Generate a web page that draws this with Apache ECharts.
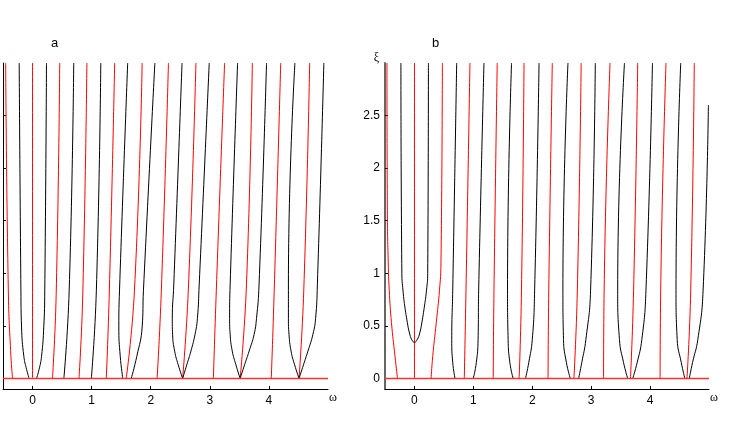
<!DOCTYPE html>
<html>
<head>
<meta charset="utf-8">
<script src="https://cdn.jsdelivr.net/npm/echarts@6.0.0/dist/echarts.min.js"></script>
<style>
  html, body { margin: 0; padding: 0; background: #fff; }
  #chart { width: 746px; height: 425px; }
</style>
</head>
<body>
<div id="chart"></div>
<script>
// tick values, same in both panels
var omegaTicks = [0, 1, 2, 3, 4];
var xiTicks = [0, 0.5, 1, 1.5, 2, 2.5];

// every curve is a list of [omega, xi] points
// panel a
var redA = [
  [[-0.337, 0], [-0.366, 0.21], [-0.41, 0.84], [-0.455, 3]],
  [[0, 0], [0, 3]],
  [[0.337, 0], [0.40, 0.8], [0.46, 3]],
  [[0.786, 0], [0.85, 0.8], [0.92, 3]],
  [[1.248, 0], [1.30, 0.84], [1.39, 3]],
  [[1.585, 0], [1.725, 0.84], [1.855, 3]],
  [[2.108, 0], [2.18, 0.84], [2.30, 3]],
  [[2.54, 0], [2.636, 0.84], [2.765, 3]],
  [[3.06, 0], [3.11, 0.84], [3.25, 3]],
  [[3.513, 0], [3.62, 0.89], [3.72, 3]],
  [[4.04, 0], [4.09, 0.84], [4.20, 3]],
  [[4.51, 0], [4.59, 0.84], [4.69, 3]]
];
var blackA = [
  [[-0.057, 0], [-0.1, 0.085], [-0.147, 0.21], [-0.186, 0.49], [-0.197, 0.84], [-0.226, 3]],
  [[0.067, 0], [0.11, 0.085], [0.152, 0.21], [0.19, 0.49], [0.207, 0.84], [0.236, 3]],
  [[0.53, 0], [0.62, 0.84], [0.697, 3]],
  [[0.995, 0], [1.08, 0.84], [1.155, 3]],
  [[1.528, 0], [1.484, 0.21], [1.46, 0.49], [1.472, 0.84], [1.61, 3]],
  [[1.67, 0], [1.764, 0.21], [1.855, 0.49], [1.877, 0.84], [2.07, 3]],
  [[2.54, 0], [2.465, 0.13], [2.405, 0.26], [2.37, 0.42], [2.365, 0.57], [2.39, 0.89], [2.53, 3]],
  [[2.54, 0], [2.61, 0.13], [2.68, 0.26], [2.75, 0.42], [2.79, 0.57], [2.82, 0.89], [2.99, 3]],
  [[3.513, 0], [3.44, 0.133], [3.38, 0.26], [3.344, 0.42], [3.335, 0.57], [3.344, 0.89], [3.47, 3]],
  [[3.513, 0], [3.59, 0.133], [3.665, 0.26], [3.75, 0.42], [3.79, 0.57], [3.833, 0.89], [3.96, 3]],
  [[4.51, 0], [4.435, 0.13], [4.375, 0.26], [4.34, 0.42], [4.33, 0.57], [4.33, 0.89], [4.44, 3]],
  [[4.51, 0], [4.585, 0.13], [4.66, 0.26], [4.745, 0.42], [4.79, 0.57], [4.82, 0.89], [4.93, 3]]
];

// panel b
var redB = [
  [[-0.288, 0], [-0.33, 0.21], [-0.39, 0.53], [-0.428, 0.84], [-0.445, 1.1], [-0.46, 1.6], [-0.467, 3]],
  [[0, 0], [0, 3]],
  [[0.283, 0], [0.31, 0.21], [0.37, 0.53], [0.425, 0.84], [0.45, 1.1], [0.474, 3]],
  [[0.846, 0], [0.875, 0.84], [0.942, 3]],
  [[1.337, 0], [1.35, 0.84], [1.405, 3]],
  [[1.777, 0], [1.817, 0.84], [1.86, 3]],
  [[2.268, 0], [2.28, 0.84], [2.34, 3]],
  [[2.707, 0], [2.765, 0.84], [2.83, 3]],
  [[3.21, 0], [3.22, 0.84], [3.32, 3]],
  [[3.667, 0], [3.72, 0.84], [3.79, 3]],
  [[4.17, 0], [4.18, 0.84], [4.27, 3]],
  [[4.626, 0], [4.69, 0.84], [4.75, 3]]
];
var blackB = [
  [[-0.23, 3], [-0.214, 1.0], [-0.195, 0.84], [-0.165, 0.69], [-0.12, 0.53], [-0.085, 0.433], [-0.045, 0.368],
   [0, 0.344], [0.045, 0.368], [0.09, 0.433], [0.125, 0.53], [0.17, 0.69], [0.205, 0.84], [0.225, 1.0], [0.237, 3]],
  [[0.689, 0], [0.65, 0.15], [0.633, 0.37], [0.65, 0.84], [0.717, 3]],
  [[0.998, 0], [1.05, 0.15], [1.08, 0.37], [1.09, 0.84], [1.18, 3]],
  [[1.675, 0], [1.62, 0.15], [1.59, 0.37], [1.58, 0.84], [1.648, 3]],
  [[1.885, 0], [1.94, 0.15], [2.0, 0.37], [2.04, 0.84], [2.115, 3]],
  [[2.646, 0], [2.58, 0.15], [2.53, 0.37], [2.52, 0.84], [2.606, 3]],
  [[2.787, 0], [2.84, 0.15], [2.91, 0.37], [2.99, 0.84], [3.07, 3]],
  [[3.62, 0], [3.55, 0.15], [3.48, 0.37], [3.45, 0.84], [3.565, 3]],
  [[3.705, 0], [3.78, 0.15], [3.86, 0.37], [3.93, 0.84], [4.04, 3]],
  [[4.59, 0], [4.53, 0.15], [4.46, 0.37], [4.44, 0.84], [4.52, 3]],
  [[4.665, 0], [4.72, 0.15], [4.81, 0.37], [4.90, 0.84], [4.99, 2.6]]
];

var baseline = [[-0.5, 0], [5, 0]];

var font = "Liberation Sans";
var symFont = "Liberation Serif";

function curves(list, color, idx) {
  return list.map(function (pts) {
    return {
      type: "line",
      xAxisIndex: idx,
      yAxisIndex: idx,
      data: pts,
      showSymbol: false,
      smooth: 0.5,
      silent: true,
      lineStyle: { color: color, width: 1 }
    };
  });
}

function xAxis(idx) {
  return {
    type: "value",
    gridIndex: idx,
    min: -0.5,
    max: 5,
    name: "ω",
    nameLocation: "end",
    nameGap: 1,
    nameTextStyle: { fontFamily: symFont, fontSize: 12, color: "#000", verticalAlign: "top", padding: [3, 0, 0, 0] },
    axisLine: { onZero: false, lineStyle: { color: "#000", width: 1 } },
    axisTick: { inside: true, length: 3, customValues: omegaTicks, lineStyle: { color: "#000" } },
    axisLabel: { customValues: omegaTicks, margin: 6, color: "#000", fontFamily: font, fontSize: 12 },
    splitLine: { show: false }
  };
}

function yAxis(idx, labels) {
  return {
    type: "value",
    gridIndex: idx,
    min: -0.1,
    max: 3,
    name: labels ? "ξ" : "",
    nameLocation: "end",
    nameGap: 5,
    nameTextStyle: { fontFamily: symFont, fontSize: 12, color: "#000", align: "right", verticalAlign: "middle", padding: [0, 6, 0, 0] },
    axisLine: { onZero: false, lineStyle: { color: labels ? "#666" : "#000", width: labels ? 2 : 1 } },
    axisTick: { inside: true, length: 3, customValues: xiTicks, lineStyle: { color: "#000" } },
    axisLabel: { show: labels, customValues: xiTicks, margin: 5, color: "#000", fontFamily: font, fontSize: 12 },
    splitLine: { show: false }
  };
}

var chart = echarts.init(document.getElementById("chart"));

var series = []
  .concat(curves(redA, "#ff0000", 0))
  .concat(curves(blackA, "#000000", 0))
  .concat(curves(redB, "#ff0000", 1))
  .concat(curves(blackB, "#000000", 1));

[0, 1].forEach(function (i) {
  series.push({
    type: "line",
    xAxisIndex: i,
    yAxisIndex: i,
    data: baseline,
    showSymbol: false,
    silent: true,
    lineStyle: { color: "#ff3030", width: 1.5 }
  });
});

var option = {
  backgroundColor: "#fff",
  animation: false,
  title: [
    { text: "a", left: 46, top: 32, textStyle: { fontFamily: font, fontSize: 13, fontWeight: "normal", color: "#000" } },
    { text: "b", left: 427, top: 32, textStyle: { fontFamily: font, fontSize: 13, fontWeight: "normal", color: "#000" } }
  ],
  grid: [
    { left: 3, top: 63, width: 325, height: 326 },
    { left: 385, top: 63, width: 324, height: 326 }
  ],
  xAxis: [xAxis(0), xAxis(1)],
  yAxis: [yAxis(0, false), yAxis(1, true)],
  series: series
};

chart.setOption(option);
</script>
</body>
</html>
